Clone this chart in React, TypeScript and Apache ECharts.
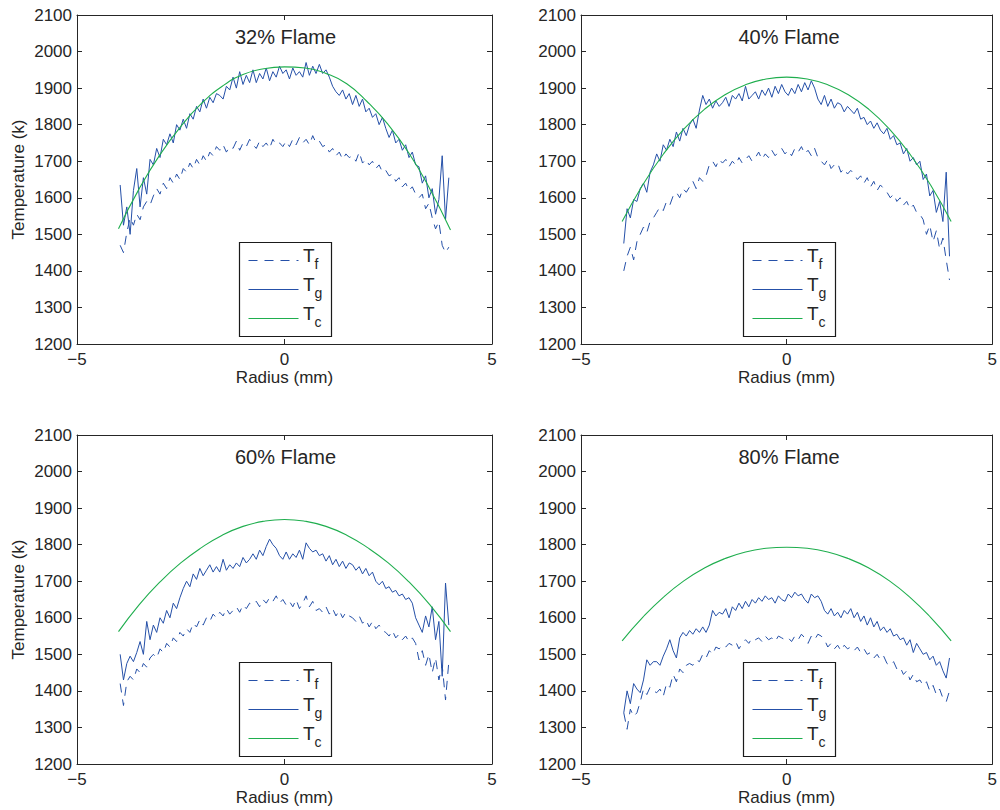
import React, { useEffect, useRef } from "react";
import * as echarts from "echarts";

// ---------- data ----------
const RADIUS = [
  -3.96, -3.88, -3.8, -3.72, -3.64, -3.56, -3.48, -3.4, -3.32, -3.24,
  -3.16, -3.08, -3.0, -2.92, -2.84, -2.76, -2.68, -2.6, -2.52, -2.44,
  -2.36, -2.28, -2.2, -2.12, -2.04, -1.96, -1.88, -1.8, -1.72, -1.64,
  -1.56, -1.48, -1.4, -1.32, -1.24, -1.16, -1.08, -1.0, -0.92, -0.84,
  -0.76, -0.68, -0.6, -0.52, -0.44, -0.36, -0.28, -0.2, -0.12, -0.04,
  0.04, 0.12, 0.2, 0.28, 0.36, 0.44, 0.52, 0.6, 0.68, 0.76,
  0.84, 0.92, 1.0, 1.08, 1.16, 1.24, 1.32, 1.4, 1.48, 1.56,
  1.64, 1.72, 1.8, 1.88, 1.96, 2.04, 2.12, 2.2, 2.28, 2.36,
  2.44, 2.52, 2.6, 2.68, 2.76, 2.84, 2.92, 3.0, 3.08, 3.16,
  3.24, 3.32, 3.4, 3.48, 3.56, 3.64, 3.72, 3.8, 3.88, 3.96,
];

const RADIUS_C = [-4, -3.5, -3, -2.5, -2, -1.5, -1, -0.5, 0, 0.5, 1, 1.5, 2, 2.5, 3, 3.5, 4];

// 32% flame
const TG_32 = [
  1635, 1525, 1575, 1500, 1620, 1680, 1575, 1655, 1610, 1705,
  1690, 1735, 1710, 1760, 1745, 1775, 1750, 1800, 1785, 1815,
  1790, 1830, 1815, 1850, 1835, 1870, 1845, 1875, 1860, 1885,
  1880, 1870, 1905, 1895, 1930, 1900, 1945, 1910, 1935, 1915,
  1950, 1915, 1940, 1925, 1955, 1920, 1945, 1930, 1960, 1940,
  1950, 1925, 1955, 1935, 1945, 1930, 1970, 1935, 1960, 1940,
  1965, 1940, 1950, 1930, 1905, 1890, 1880, 1895, 1870, 1885,
  1855, 1880, 1850, 1870, 1835, 1845, 1820, 1830, 1800, 1820,
  1790, 1765, 1785, 1750, 1760, 1730, 1745, 1710, 1725, 1690,
  1685, 1640, 1660, 1600, 1625, 1555, 1595, 1715, 1540, 1655,
];
const TF_32 = [
  1470, 1450, 1505, 1545, 1525, 1555, 1540, 1575, 1590, 1580,
  1605, 1625, 1610, 1640, 1625, 1655, 1640, 1665, 1650, 1680,
  1670, 1695, 1680, 1705, 1690, 1715, 1700, 1725, 1715, 1740,
  1730, 1745, 1725, 1740, 1735, 1755, 1730, 1750, 1740, 1760,
  1745, 1735, 1755, 1740, 1750, 1735, 1760, 1745, 1750, 1740,
  1755, 1740, 1760, 1745, 1765, 1750, 1760, 1745, 1770, 1750,
  1755, 1740, 1745, 1725, 1735, 1715, 1725, 1705, 1720, 1710,
  1715, 1700, 1725, 1695, 1705, 1690, 1700, 1680, 1690, 1670,
  1675, 1660, 1665, 1645, 1655, 1630, 1640, 1620, 1630, 1610,
  1600, 1610, 1570, 1585, 1545, 1515, 1535, 1470, 1450, 1465,
];
const TC_32 = [1515, 1625, 1718, 1795, 1858, 1905, 1937, 1953, 1958, 1955, 1940, 1912, 1862, 1800, 1722, 1625, 1512];

// 40% flame
const TG_40 = [
  1475, 1570, 1545, 1595, 1590, 1625, 1640, 1615, 1670, 1690,
  1720, 1700, 1745, 1730, 1760, 1740, 1780, 1755, 1790, 1770,
  1800, 1815, 1790, 1840, 1880, 1855, 1870, 1845, 1865, 1850,
  1860, 1875, 1850, 1880, 1870, 1885, 1865, 1905, 1870, 1880,
  1890, 1870, 1895, 1880, 1900, 1875, 1905, 1885, 1910, 1890,
  1880, 1900, 1885, 1910, 1890, 1915, 1895, 1920, 1900, 1870,
  1855, 1880, 1850, 1870, 1845, 1860, 1855, 1835, 1850, 1840,
  1830, 1845, 1815, 1820, 1800, 1810, 1790, 1805, 1785, 1775,
  1790, 1760, 1770, 1745, 1750, 1720, 1735, 1700, 1710, 1690,
  1700, 1650, 1665, 1605, 1620, 1560, 1590, 1535, 1670, 1440,
];
const TF_40 = [
  1400, 1440, 1465, 1430, 1480, 1500, 1520, 1505, 1535, 1545,
  1560, 1575, 1565, 1590, 1580, 1605, 1615, 1600, 1625, 1615,
  1630, 1645, 1625, 1655, 1645, 1660, 1690, 1700, 1685, 1705,
  1695, 1705, 1685, 1700, 1690, 1710, 1695, 1705, 1715, 1700,
  1710, 1725, 1705, 1720, 1710, 1730, 1715, 1725, 1735, 1720,
  1730, 1715, 1735, 1725, 1740, 1720, 1730, 1715, 1735, 1710,
  1700, 1690, 1705, 1680, 1690, 1695, 1670, 1680, 1665, 1675,
  1665, 1650, 1660, 1640, 1655, 1630, 1645, 1620, 1635, 1625,
  1615, 1600, 1610, 1590, 1600, 1580, 1590, 1570, 1580, 1560,
  1555, 1540, 1500, 1525, 1480, 1510, 1460, 1490, 1430, 1375,
];
const TC_40 = [1535, 1635, 1719, 1788, 1842, 1882, 1909, 1925, 1930, 1925, 1909, 1882, 1842, 1788, 1719, 1635, 1535];

// 60% flame
const TG_60 = [
  1500, 1430, 1475, 1495, 1480, 1505, 1535, 1500, 1590, 1540,
  1580, 1560, 1600, 1585, 1620, 1600, 1640, 1625, 1655, 1680,
  1700, 1685, 1720, 1705, 1735, 1715, 1730, 1745, 1725, 1740,
  1725, 1760, 1730, 1745, 1735, 1750, 1740, 1765, 1750, 1760,
  1775, 1760, 1785, 1770, 1795, 1815, 1800, 1790, 1770, 1760,
  1780, 1760, 1775, 1765, 1785, 1760, 1805, 1790, 1780, 1785,
  1770, 1775, 1755, 1770, 1745, 1760, 1740, 1755, 1735, 1750,
  1745, 1730, 1740, 1720, 1735, 1715, 1725, 1700, 1690, 1700,
  1680, 1685, 1670, 1675, 1660, 1665, 1650, 1655, 1640, 1600,
  1580, 1560, 1605, 1575, 1630, 1540, 1590, 1440, 1695, 1580,
];
const TF_60 = [
  1420, 1360, 1425, 1440, 1430, 1460, 1450, 1475, 1465, 1490,
  1500, 1490, 1515, 1505, 1530, 1520, 1545, 1535, 1560, 1550,
  1570, 1560, 1585, 1575, 1595, 1580, 1600, 1590, 1610, 1600,
  1615, 1605, 1625, 1610, 1620, 1630, 1615, 1635, 1625, 1640,
  1635, 1645, 1630, 1650, 1640, 1655, 1645, 1660, 1640, 1650,
  1635, 1645, 1630, 1650, 1625, 1640, 1660, 1630, 1645, 1620,
  1625, 1615, 1630, 1610, 1625, 1605, 1620, 1600, 1615, 1605,
  1600, 1590, 1605, 1585, 1595, 1575, 1590, 1570, 1580, 1565,
  1560, 1550, 1565, 1545, 1555, 1540, 1550, 1535, 1545, 1530,
  1485, 1510, 1470, 1500, 1450, 1490, 1430, 1470, 1375, 1480,
];
const TC_60 = [1562, 1636, 1698, 1750, 1792, 1826, 1850, 1864, 1869, 1864, 1850, 1826, 1792, 1750, 1698, 1636, 1562];

// 80% flame
const TG_80 = [
  1340, 1400, 1365, 1420, 1405, 1395, 1430, 1485, 1470, 1480,
  1480, 1470, 1495, 1515, 1540, 1510, 1490, 1545, 1560, 1550,
  1565, 1555, 1570, 1560, 1575, 1560, 1580, 1620, 1605, 1615,
  1610, 1625, 1600, 1630, 1620, 1640, 1625, 1645, 1630, 1650,
  1640, 1655, 1645, 1660, 1650, 1655, 1640, 1660, 1650, 1645,
  1665, 1655, 1670, 1660, 1665, 1650, 1640, 1665, 1655, 1660,
  1645, 1620, 1610, 1625, 1605, 1615, 1600, 1620, 1610, 1625,
  1600, 1615, 1590, 1605, 1580, 1600, 1575, 1590, 1565, 1575,
  1560, 1570, 1550, 1555, 1540, 1545, 1525, 1540, 1505, 1530,
  1515, 1500, 1505, 1485, 1495, 1470, 1480, 1455, 1435, 1490,
];
const TF_80 = [
  1340, 1295, 1350, 1330, 1340, 1370, 1405, 1390, 1410, 1400,
  1395, 1405, 1385, 1420, 1410, 1445, 1425, 1460, 1450, 1470,
  1475, 1470, 1485, 1480, 1500, 1490, 1510, 1500, 1520, 1515,
  1525, 1520, 1530, 1525, 1535, 1515, 1530, 1540, 1530, 1545,
  1540, 1545, 1535, 1550, 1540, 1545, 1535, 1550, 1545, 1540,
  1545, 1535, 1550, 1540, 1555, 1545, 1530, 1550, 1540, 1555,
  1550, 1540, 1520, 1530, 1515, 1525, 1510, 1525, 1515, 1520,
  1510, 1520, 1505, 1515, 1500, 1505, 1490, 1500, 1485, 1495,
  1475, 1470, 1480, 1460, 1465, 1445, 1455, 1430, 1445, 1425,
  1430, 1415, 1425, 1400, 1415, 1390, 1405, 1380, 1370, 1400,
];
const TC_80 = [1537, 1601, 1656, 1701, 1736, 1762, 1780, 1790, 1793, 1790, 1780, 1762, 1736, 1701, 1656, 1601, 1537];

const TITLES = ["32% Flame", "40% Flame", "60% Flame", "80% Flame"];

// ---------- styling ----------
const BLUE = "#2550a8";
const GREEN = "#1fae4e";
const INK = "#262626";
const FONT = '"Liberation Sans", Arial, Helvetica, sans-serif';
const DASH = [9, 7];

const PANELS = [
  { title: TITLES[0], tf: TF_32, tg: TG_32, tc: TC_32, grid: { left: 77, top: 15, width: 415, height: 329 } },
  { title: TITLES[1], tf: TF_40, tg: TG_40, tc: TC_40, grid: { left: 581, top: 15, width: 414, height: 329 } },
  { title: TITLES[2], tf: TF_60, tg: TG_60, tc: TC_60, grid: { left: 77, top: 435, width: 415, height: 329 } },
  { title: TITLES[3], tf: TF_80, tg: TG_80, tc: TC_80, grid: { left: 581, top: 435, width: 414, height: 329 } },
];

const pair = (xs: number[], ys: number[]) => ys.map((y, i) => [xs[i], y]);
const fmtX = (v: number) => (v < 0 ? "\u2212" + Math.abs(v) : String(v));
const fmtY = (v: number) => String(v);

function legendGroup(bx: number, by: number) {
  const rows = [
    { sub: "f", color: BLUE, dash: DASH, ly: 18, ty: 12.5, sy: 21.5 },
    { sub: "g", color: BLUE, dash: null, ly: 47, ty: 41.5, sy: 50.5 },
    { sub: "c", color: GREEN, dash: null, ly: 76, ty: 70.5, sy: 79.5 },
  ];
  const children: any[] = [
    {
      type: "rect",
      shape: { x: 0, y: 0, width: 92, height: 94 },
      style: { fill: "#fff", stroke: "#1a1a1a", lineWidth: 1.2 },
    },
  ];
  rows.forEach((r) => {
    children.push({
      type: "line",
      shape: { x1: 9, y1: r.ly, x2: 59, y2: r.ly },
      style: { stroke: r.color, lineWidth: 1.2, lineDash: r.dash || undefined },
    });
    children.push({
      type: "text",
      x: 63.5,
      y: r.ty,
      style: { text: "T", fontSize: 19, fontFamily: FONT, fill: INK, align: "left", verticalAlign: "middle" },
    });
    children.push({
      type: "text",
      x: 75,
      y: r.sy,
      style: { text: r.sub, fontSize: 14, fontFamily: FONT, fill: INK, align: "left", verticalAlign: "middle" },
    });
  });
  return { type: "group", x: bx, y: by, z: 100, children };
}

export default function App() {
  const ref = useRef<HTMLDivElement>(null);

  useEffect(() => {
    document.body.style.margin = "0";
    if (!ref.current) return;
    const chart = echarts.init(ref.current, null, { renderer: "svg" });

    const grids: any[] = [];
    const xAxes: any[] = [];
    const yAxes: any[] = [];
    const series: any[] = [];
    const graphics: any[] = [];

    const axisLine = { show: true, onZero: false, lineStyle: { color: INK, width: 1 } };
    const label = { color: INK, fontSize: 17, fontFamily: FONT };
    const tick = { show: true, inside: true, length: 5, lineStyle: { color: INK } };

    PANELS.forEach((p, i) => {
      grids.push({ ...p.grid, containLabel: false, show: false });
      const xb = xAxes.length;
      xAxes.push({
        type: "value",
        gridIndex: i,
        position: "bottom",
        min: -5,
        max: 5,
        interval: 5,
        axisLine,
        axisTick: tick,
        axisLabel: { ...label, margin: 7, formatter: fmtX },
        splitLine: { show: false },
        name: "Radius (mm)",
        nameLocation: "middle",
        nameGap: 25,
        nameTextStyle: { ...label },
      });
      xAxes.push({
        type: "value",
        gridIndex: i,
        position: "top",
        min: -5,
        max: 5,
        interval: 5,
        axisLine,
        axisTick: tick,
        axisLabel: { show: false },
        splitLine: { show: false },
      });
      const yb = yAxes.length;
      yAxes.push({
        type: "value",
        gridIndex: i,
        position: "left",
        min: 1200,
        max: 2100,
        interval: 100,
        axisLine,
        axisTick: tick,
        axisLabel: { ...label, margin: 5, formatter: fmtY },
        splitLine: { show: false },
        name: i % 2 === 0 ? "Temperature (k)" : "",
        nameLocation: "middle",
        nameGap: 50,
        nameRotate: 90,
        nameTextStyle: { ...label },
      });
      yAxes.push({
        type: "value",
        gridIndex: i,
        position: "right",
        min: 1200,
        max: 2100,
        interval: 100,
        axisLine,
        axisTick: tick,
        axisLabel: { show: false },
        splitLine: { show: false },
      });

      const common = {
        type: "line",
        xAxisIndex: xb,
        yAxisIndex: yb,
        showSymbol: false,
        symbol: "none",
        clip: true,
        silent: true,
      };
      series.push({
        ...common,
        name: "Tf",
        data: pair(RADIUS, p.tf),
        lineStyle: { color: BLUE, width: 1, type: DASH },
      });
      series.push({
        ...common,
        name: "Tg",
        data: pair(RADIUS, p.tg),
        lineStyle: { color: BLUE, width: 1 },
      });
      series.push({
        ...common,
        name: "Tc",
        smooth: 0.5,
        data: pair(RADIUS_C, p.tc),
        lineStyle: { color: GREEN, width: 1.1 },
      });

      const cx = p.grid.left + p.grid.width / 2;
      graphics.push({
        type: "text",
        x: cx + 1,
        y: p.grid.top + 21.5,
        z: 50,
        style: { text: p.title, fontSize: 20, fontFamily: FONT, fill: INK, align: "center", verticalAlign: "middle" },
      });
      graphics.push(legendGroup(p.grid.left + 162.5, p.grid.top + 227.5));
    });

    chart.setOption({
      animation: false,
      backgroundColor: "#fff",
      grid: grids,
      xAxis: xAxes,
      yAxis: yAxes,
      series,
      graphic: graphics,
    });

    return () => chart.dispose();
  }, []);

  return <div ref={ref} style={{ width: 1000, height: 810 }} />;
}
